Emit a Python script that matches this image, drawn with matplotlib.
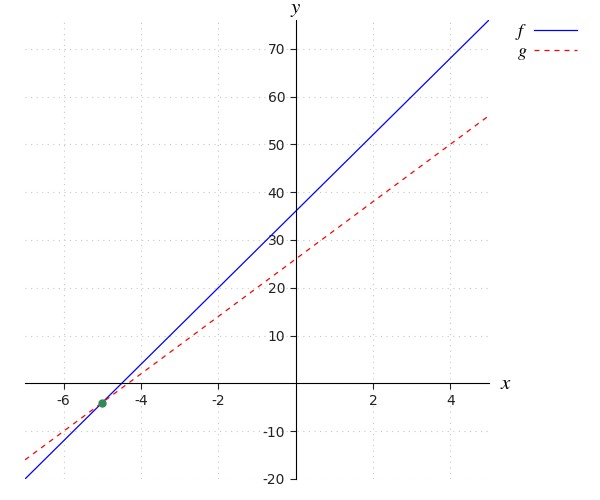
import numpy as np
import matplotlib.pyplot as plt

plt.rcParams['mathtext.fontset'] = 'stix'
plt.rcParams['axes.unicode_minus'] = False

# f(x) = 8x + 36, g(x) = 6x + 26, they meet at (-5, -4)
x_range = [-7, 5]
f_coef = [8, 36]
g_coef = [6, 26]
meet_x = [-5]
meet_y = [-4]
xticks = [-6, -4, -2, 2, 4]
yticks = [-20, -10, 10, 20, 30, 40, 50, 60, 70]

fig = plt.figure(figsize=(6, 5), dpi=100)
ax = fig.add_axes([25/600, 1-479/500, (489-25)/600, (479-20)/500])

xs = np.linspace(x_range[0], x_range[1], 200)
ax.plot(xs, f_coef[0]*xs + f_coef[1], color='blue', lw=0.9, label='$f$')
ax.plot(xs, g_coef[0]*xs + g_coef[1], color='red', lw=0.9, ls=(0, (4, 4)), label='$g$')
ax.plot(meet_x, meet_y, 'o', color='#2e8b57', ms=5, zorder=5)

ax.set_xlim(x_range)
ax.set_ylim(-20, 76)
ax.set_xticks(xticks)
ax.set_yticks(yticks)
ax.grid(True, ls=(0, (1, 4)), color='#c8c8c8', lw=0.8)
ax.axhline(0, color='#c8c8c8', ls=(0, (1, 4)), lw=0.8, zorder=0)

ax.spines['left'].set_position(('data', 0))
ax.spines['bottom'].set_position(('data', 0))
ax.spines['right'].set_visible(False)
ax.spines['top'].set_visible(False)
ax.tick_params(direction='out', length=4, labelsize=10, colors='#222222')

ax.text(5.28, 0, '$x$', fontsize=15, va='center', ha='left')
ax.text(0, 76.3, '$y$', fontsize=15, va='bottom', ha='center')

leg = ax.legend(loc='upper left', bbox_to_anchor=(1.025, 1.027), frameon=False,
                handlelength=2.4, markerfirst=False, fontsize=13,
                labelspacing=0.0, handletextpad=0.35, borderpad=0.3)

fig.savefig('out.png')
